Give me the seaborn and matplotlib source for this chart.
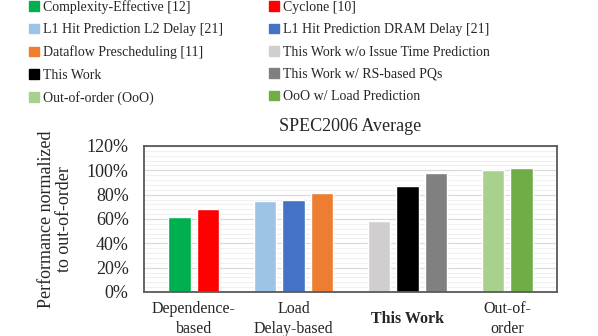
import pandas as pd
import seaborn as sns
import matplotlib.pyplot as plt
import matplotlib.ticker as mticker
from matplotlib.patches import Patch

# data
schemes = [
    "Complexity-Effective [12]",
    "Cyclone [10]",
    "L1 Hit Prediction L2 Delay [21]",
    "L1 Hit Prediction DRAM Delay [21]",
    "Dataflow Prescheduling [11]",
    "This Work w/o Issue Time Prediction",
    "This Work",
    "This Work w/ RS-based PQs",
    "Out-of-order (OoO)",
    "OoO w/ Load Prediction",
]
groups = ["Dependence-\nbased", "Load\nDelay-based", "This Work", "Out-of-\norder"]
scheme_group = [0, 0, 1, 1, 1, 2, 2, 2, 3, 3]
perf = [62, 68, 75, 75.5, 81, 58.5, 87, 98, 100, 101.5]

colors = ["#00b050", "#ff0000", "#9dc3e6", "#4472c4", "#ed7d31",
          "#d0cece", "#000000", "#808080", "#a9d18e", "#70ad47"]
palette = dict(zip(schemes, colors))

df = pd.DataFrame({"scheme": schemes, "perf": perf, "group": scheme_group})

# slot order: one empty slot between groups
order = ["_gap0"]
for g in range(len(groups)):
    order += [s for s, sg in zip(schemes, scheme_group) if sg == g]
    order.append(f"_gap{g + 1}")

sns.set_theme(style="white")
plt.rcParams["font.family"] = ["Liberation Serif", "DejaVu Serif"]
plt.rcParams["font.size"] = 11

fig = plt.figure(figsize=(5.98, 3.36), dpi=100)
ax = fig.add_axes([0.2408, 0.131, 0.6906, 0.4345])

sns.barplot(data=df, x="scheme", y="perf", hue="scheme", order=order,
            hue_order=schemes, palette=palette, width=0.8, saturation=1,
            legend=False, ax=ax)

ax.set_xlim(-0.25, len(order) - 0.75)
ax.set_ylim(0, 120)
ax.yaxis.set_major_locator(mticker.MultipleLocator(20))
ax.yaxis.set_minor_locator(mticker.MultipleLocator(4))
ax.yaxis.set_major_formatter(mticker.PercentFormatter(decimals=0))
ax.grid(axis="y", which="major", color="#d9d9d9", lw=0.9, zorder=0)
ax.grid(axis="y", which="minor", color="#f0f0f0", lw=0.8, zorder=0)
ax.set_axisbelow(True)
for sp in ax.spines.values():
    sp.set_color("#595959")
    sp.set_linewidth(1.3)

# group labels centred under each cluster
centers = [sum(order.index(s) for s, sg in zip(schemes, scheme_group) if sg == g)
           / scheme_group.count(g) for g in range(len(groups))]
ax.set_xticks(centers)
ax.set_xticklabels(groups, fontsize=11.5, linespacing=1.3)
for lab in ax.get_xticklabels():
    lab.set_va("center")
    if lab.get_text() == "This Work":
        lab.set_fontweight("bold")
ax.tick_params(axis="x", length=0, pad=19.5)
ax.tick_params(axis="y", which="both", length=0, pad=11, labelsize=13)

ax.set_xlabel("")
ax.set_ylabel("Performance normalized\nto out-of-order", fontsize=13, labelpad=10,
              linespacing=1.1)
ax.set_title("SPEC2006 Average", fontsize=13, pad=11)

handles = [Patch(color=palette[s]) for s in schemes]
# legend is read row by row in the reference, matplotlib fills columns
idx = list(range(0, len(schemes), 2)) + list(range(1, len(schemes), 2))
fig.legend([handles[i] for i in idx], [schemes[i] for i in idx], ncol=2,
           loc="upper left", bbox_to_anchor=(0.037, 1.02), frameon=False,
           fontsize=10, handlelength=0.7, handleheight=0.7, handletextpad=0.3,
           labelspacing=0.67, columnspacing=3.35, borderpad=0)

fig.savefig("out.png", dpi=100)
